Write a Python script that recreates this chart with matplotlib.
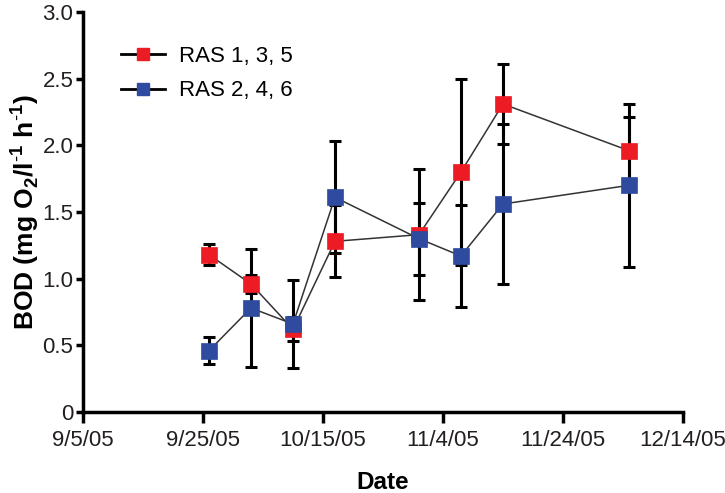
import matplotlib
matplotlib.use("Agg")
import matplotlib.pyplot as plt
import matplotlib.dates as mdates
from matplotlib.ticker import FuncFormatter, FixedLocator
from matplotlib.lines import Line2D
import datetime as dt

plt.rcParams['font.family'] = ['Liberation Sans', 'DejaVu Sans']
plt.rcParams['mathtext.fontset'] = 'custom'
plt.rcParams['mathtext.rm'] = 'Liberation Sans'
plt.rcParams['mathtext.bf'] = 'Liberation Sans:bold'

dates = ["2005-09-26", "2005-10-03", "2005-10-10", "2005-10-17",
         "2005-10-31", "2005-11-07", "2005-11-14", "2005-12-05"]
ras135 = [1.18, 0.96, 0.62, 1.28, 1.33, 1.80, 2.31, 1.96]
ras135_err = [0.08, 0.07, 0.09, 0.27, 0.49, 0.70, 0.30, 0.25]
ras246 = [0.46, 0.78, 0.66, 1.61, 1.30, 1.17, 1.56, 1.70]
ras246_err = [0.10, 0.44, 0.33, 0.42, 0.27, 0.38, 0.60, 0.61]
tick_dates = ["2005-09-05", "2005-09-25", "2005-10-15", "2005-11-04",
              "2005-11-24", "2005-12-14"]
yticks = [0, 0.5, 1.0, 1.5, 2.0, 2.5, 3.0]
ytick_labels = ["0", "0.5", "1.0", "1.5", "2.0", "2.5", "3.0"]

x = [dt.datetime.strptime(d, "%Y-%m-%d") for d in dates]
xt = [dt.datetime.strptime(d, "%Y-%m-%d") for d in tick_dates]

red = "#ED1C24"
blue = "#2E4B9F"

fig = plt.figure(figsize=(7.25, 4.93), dpi=100)
ax = fig.add_axes([0.1145, 0.1643, 0.8275, 0.8114])

for vals, errs, col in [(ras135, ras135_err, red), (ras246, ras246_err, blue)]:
    ax.errorbar(x, vals, yerr=errs, fmt='none', ecolor='black',
                elinewidth=2.2, capsize=4.5, capthick=2.2, zorder=2)
    ax.plot(x, vals, color='#333333', lw=1.1, zorder=3)
    ax.plot(x, vals, ls='none', marker='s', ms=11, mfc=col, mec=col,
            mew=0.5, zorder=4)

handles = [Line2D([], [], color='black', lw=2, marker='s', ms=9, mfc=red, mec=red),
           Line2D([], [], color='black', lw=2, marker='s', ms=9, mfc=blue, mec=blue)]
ax.legend(handles, ["RAS 1, 3, 5", "RAS 2, 4, 6"], loc='upper left',
          bbox_to_anchor=(0.03, 0.965), frameon=False, fontsize=16,
          handlelength=2.0, handletextpad=0.6, labelspacing=0.6)

ax.set_xlim(xt[0], xt[-1])
ax.set_ylim(0, 3.0)
ax.xaxis.set_major_locator(FixedLocator(mdates.date2num(xt)))
ax.xaxis.set_major_formatter(FuncFormatter(
    lambda v, p: (lambda d: f"{d.month}/{d.day}/{d.strftime('%y')}")(mdates.num2date(v))))
ax.set_yticks(yticks)
ax.set_yticklabels(ytick_labels)

for s in ['top', 'right']:
    ax.spines[s].set_visible(False)
for s in ['left', 'bottom']:
    ax.spines[s].set_linewidth(2.5)
ax.tick_params(axis='x', direction='out', length=8, width=2.5, labelsize=16,
               colors='black', pad=5)
ax.tick_params(axis='y', direction='out', length=5, width=2.5, labelsize=16,
               colors='black', pad=2)
for lbl in ax.get_xticklabels() + ax.get_yticklabels():
    lbl.set_color('#231F20')

ax.set_xlabel("Date", fontsize=17.5, fontweight='bold', labelpad=14)
ax.set_ylabel(r"BOD (mg O$_\mathbf{2}$/l$^\mathbf{\text{-}1}$ h$^\mathbf{\text{-}1}$)",
              fontsize=19, fontweight='bold', labelpad=1)

fig.savefig("out.png", dpi=100)
